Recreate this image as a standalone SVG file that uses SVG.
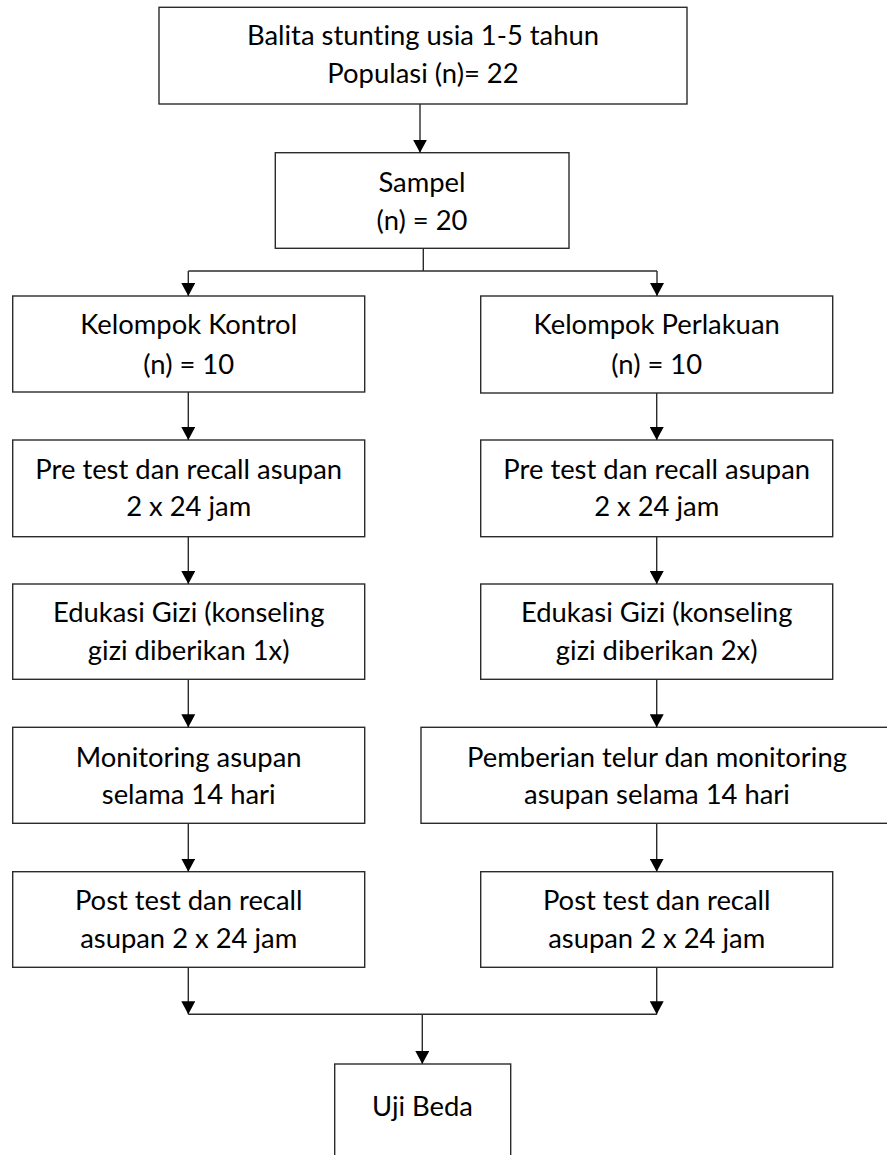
<svg xmlns="http://www.w3.org/2000/svg" width="887" height="1155" viewBox="0 0 887 1155">
  <style>
    .box { fill: #ffffff; stroke: #2b2b2b; stroke-width: 1.4; }
    .t { font-family: "Lato", "Liberation Sans", sans-serif; font-size: 27.4px; fill: #000000; text-anchor: middle; font-variant-ligatures: none; font-feature-settings: "liga" 0, "clig" 0; }
    .c { fill: none; stroke: #2b2b2b; stroke-width: 1.4; }
  </style>
  <defs>
    <marker id="arr" markerUnits="userSpaceOnUse" markerWidth="13" markerHeight="14" refX="13" refY="7" orient="auto" viewBox="0 0 13 14">
      <path d="M0,0 L13,7 L0,14 Z" fill="#000000"/>
    </marker>
  </defs>
  <rect width="887" height="1155" fill="#ffffff"/>

  <g id="n-populasi">
    <rect class="box" x="159" y="7.3" width="528" height="96.7"/>
    <text class="t" x="423" y="45">Balita stunting usia 1-5 tahun</text>
    <text class="t" x="423" y="83">Populasi (n)= 22</text>
  </g>
  <g id="n-sampel">
    <rect class="box" x="275.3" y="152.7" width="293.7" height="95.6"/>
    <text class="t" x="422" y="192">Sampel</text>
    <text class="t" x="422" y="230">(n) = 20</text>
  </g>

  <g id="n-kontrol">
    <rect class="box" x="12.7" y="296" width="352" height="96"/>
    <text class="t" x="188.7" y="333.5">Kelompok Kontrol</text>
    <text class="t" x="188.7" y="373.5">(n) = 10</text>
  </g>
  <g id="n-pre-kontrol">
    <rect class="box" x="12.7" y="440" width="352" height="96.7"/>
    <text class="t" x="188.7" y="478.5">Pre test dan recall asupan</text>
    <text class="t" x="188.7" y="516">2 x 24 jam</text>
  </g>
  <g id="n-edukasi-kontrol">
    <rect class="box" x="12.7" y="584" width="352" height="95.3"/>
    <text class="t" x="188.7" y="621.7">Edukasi Gizi (konseling</text>
    <text class="t" x="188.7" y="660">gizi diberikan 1x)</text>
  </g>
  <g id="n-monitoring-kontrol">
    <rect class="box" x="12.7" y="727.3" width="352" height="96"/>
    <text class="t" x="188.7" y="766.7">Monitoring asupan</text>
    <text class="t" x="188.7" y="804">selama 14 hari</text>
  </g>
  <g id="n-post-kontrol">
    <rect class="box" x="12.7" y="871.7" width="352" height="95.6"/>
    <text class="t" x="188.7" y="910">Post test dan recall</text>
    <text class="t" x="188.7" y="948.3">asupan 2 x 24 jam</text>
  </g>

  <g id="n-perlakuan">
    <rect class="box" x="480.7" y="296" width="352" height="97"/>
    <text class="t" x="656.7" y="333.5">Kelompok Perlakuan</text>
    <text class="t" x="656.7" y="373.5">(n) = 10</text>
  </g>
  <g id="n-pre-perlakuan">
    <rect class="box" x="480.7" y="440" width="352" height="96.7"/>
    <text class="t" x="656.7" y="478.5">Pre test dan recall asupan</text>
    <text class="t" x="656.7" y="516">2 x 24 jam</text>
  </g>
  <g id="n-edukasi-perlakuan">
    <rect class="box" x="480.7" y="584" width="352" height="95.3"/>
    <text class="t" x="656.7" y="621.7">Edukasi Gizi (konseling</text>
    <text class="t" x="656.7" y="660">gizi diberikan 2x)</text>
  </g>
  <g id="n-pemberian">
    <rect class="box" x="421" y="727.3" width="472" height="96"/>
    <text class="t" x="657" y="766.7">Pemberian telur dan monitoring</text>
    <text class="t" x="657" y="804">asupan selama 14 hari</text>
  </g>
  <g id="n-post-perlakuan">
    <rect class="box" x="480.7" y="871.7" width="352" height="95.6"/>
    <text class="t" x="656.7" y="910">Post test dan recall</text>
    <text class="t" x="656.7" y="948.3">asupan 2 x 24 jam</text>
  </g>

  <g id="n-uji-beda">
    <rect class="box" x="334.7" y="1064" width="176" height="100"/>
    <text class="t" x="422.5" y="1116">Uji Beda</text>
  </g>

  <g id="connectors">
    <line class="c" x1="420" y1="104" x2="420" y2="152.7" marker-end="url(#arr)"/>
    <polyline class="c" points="423.3,248.3 423.3,271"/>
    <polyline class="c" points="188.3,271 657,271"/>
    <line class="c" x1="188.3" y1="271" x2="188.3" y2="296" marker-end="url(#arr)"/>
    <line class="c" x1="657" y1="271" x2="657" y2="296" marker-end="url(#arr)"/>

    <line class="c" x1="188.3" y1="392" x2="188.3" y2="440" marker-end="url(#arr)"/>
    <line class="c" x1="188.3" y1="536.7" x2="188.3" y2="584" marker-end="url(#arr)"/>
    <line class="c" x1="188.3" y1="679.3" x2="188.3" y2="727.3" marker-end="url(#arr)"/>
    <line class="c" x1="188.3" y1="823.3" x2="188.3" y2="871.7" marker-end="url(#arr)"/>
    <line class="c" x1="188.3" y1="967.3" x2="188.3" y2="1014.3" marker-end="url(#arr)"/>

    <line class="c" x1="656.7" y1="393" x2="656.7" y2="440" marker-end="url(#arr)"/>
    <line class="c" x1="656.7" y1="536.7" x2="656.7" y2="584" marker-end="url(#arr)"/>
    <line class="c" x1="656.7" y1="679.3" x2="656.7" y2="727.3" marker-end="url(#arr)"/>
    <line class="c" x1="656.7" y1="823.3" x2="656.7" y2="871.7" marker-end="url(#arr)"/>
    <line class="c" x1="656.7" y1="967.3" x2="656.7" y2="1014.3" marker-end="url(#arr)"/>

    <polyline class="c" points="188.3,1014.3 657,1014.3"/>
    <line class="c" x1="422.3" y1="1014.3" x2="422.3" y2="1064" marker-end="url(#arr)"/>
  </g>
</svg>
